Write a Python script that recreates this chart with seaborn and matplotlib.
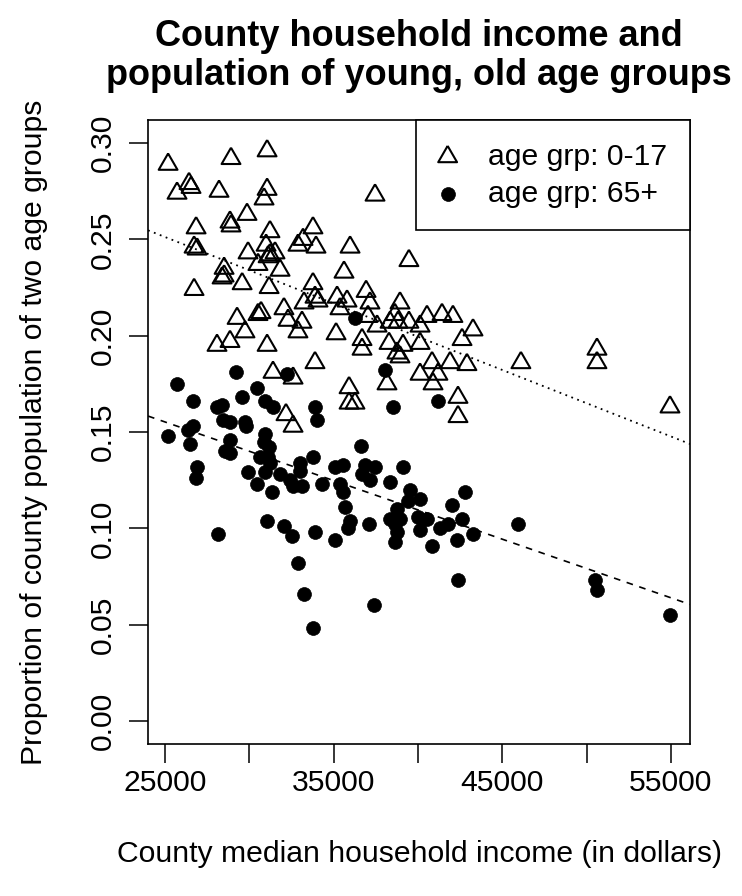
import numpy as np
import pandas as pd
import matplotlib
matplotlib.use("Agg")
import matplotlib.pyplot as plt
import seaborn as sns

# county median household income (dollars) and share of population aged 0-17
income_young = [25180, 28910, 31050, 26420, 26540, 25710, 28200, 31050, 30870, 29860,
                28850, 28910, 26840, 31220, 33770, 26720, 26900, 33180, 32880, 33950,
                30990, 29920, 31220, 31110, 31520, 35970, 30510, 31820, 28500, 28500,
                28380, 29570, 31170, 33770, 33240, 33890, 34070, 26720, 30510, 30690,
                32050, 32290, 29270, 33120, 29740, 37450, 39460, 35610, 36920, 35200,
                35790, 35370, 37150, 38930, 38630, 38810, 37030, 37570, 40530, 41420,
                42070, 43260, 38340, 39460, 40120, 32880, 35140, 36680, 36680, 38280,
                39110, 38750, 38930, 40120, 42610, 31050, 28080, 28850, 33890, 31400,
                32590, 40830, 41900, 42900, 40120, 41180, 40890, 35910, 38160, 35910,
                36260, 42370, 42370, 32170, 32590, 46100, 50610, 50610, 54940]
prop_young = [0.289, 0.292, 0.296, 0.279, 0.277, 0.274, 0.275, 0.276, 0.271, 0.263,
              0.259, 0.257, 0.256, 0.254, 0.256, 0.246, 0.245, 0.250, 0.247, 0.246,
              0.247, 0.243, 0.242, 0.241, 0.243, 0.246, 0.237, 0.234, 0.235, 0.231,
              0.230, 0.227, 0.225, 0.227, 0.217, 0.220, 0.218, 0.224, 0.211, 0.212,
              0.214, 0.208, 0.209, 0.207, 0.202, 0.273, 0.239, 0.233, 0.223, 0.220,
              0.218, 0.214, 0.217, 0.217, 0.211, 0.207, 0.210, 0.205, 0.210, 0.211,
              0.210, 0.203, 0.207, 0.207, 0.205, 0.202, 0.201, 0.198, 0.193, 0.196,
              0.195, 0.191, 0.189, 0.196, 0.198, 0.195, 0.195, 0.197, 0.186, 0.181,
              0.178, 0.186, 0.186, 0.185, 0.180, 0.180, 0.175, 0.173, 0.175, 0.165,
              0.165, 0.168, 0.158, 0.159, 0.153, 0.186, 0.193, 0.186, 0.163]

# same for share of population aged 65+
income_old = [25710, 29210, 30450, 26660, 29570, 28080, 28380, 30930, 31400, 28440,
              28850, 29740, 29800, 25180, 26660, 26360, 26480, 28850, 28560, 28850,
              30930, 30870, 31170, 30630, 31110, 31220, 26900, 26840, 29920, 30930,
              31820, 33000, 33000, 30450, 32410, 32590, 33120, 31340, 33770, 33890,
              34010, 32230, 31050, 32050, 32530, 28140, 33890, 36260, 38040, 41180,
              38520, 36620, 35080, 35550, 36860, 37450, 36680, 37150, 39110, 38340,
              34310, 35370, 35550, 39520, 40120, 39400, 42780, 42010, 35670, 38750,
              38340, 38930, 38630, 40000, 40530, 40120, 42610, 41300, 41780, 35970,
              35850, 37090, 35080, 38750, 42310, 43260, 45930, 38630, 40830, 32880,
              33240, 33770, 37390, 42370, 50490, 50610, 54940]
prop_old = [0.175, 0.181, 0.173, 0.166, 0.168, 0.163, 0.164, 0.166, 0.163, 0.156,
            0.155, 0.155, 0.153, 0.148, 0.153, 0.151, 0.144, 0.146, 0.140, 0.139,
            0.149, 0.145, 0.142, 0.137, 0.137, 0.134, 0.132, 0.126, 0.129, 0.129,
            0.128, 0.134, 0.130, 0.123, 0.125, 0.122, 0.122, 0.119, 0.137, 0.163,
            0.156, 0.180, 0.104, 0.101, 0.096, 0.097, 0.098, 0.209, 0.182, 0.166,
            0.163, 0.143, 0.132, 0.133, 0.133, 0.132, 0.128, 0.125, 0.132, 0.124,
            0.123, 0.123, 0.119, 0.120, 0.115, 0.114, 0.119, 0.112, 0.111, 0.110,
            0.105, 0.105, 0.102, 0.106, 0.105, 0.099, 0.105, 0.100, 0.102, 0.104,
            0.100, 0.102, 0.094, 0.098, 0.094, 0.097, 0.102, 0.093, 0.091, 0.082,
            0.066, 0.048, 0.060, 0.073, 0.073, 0.068, 0.055]

x_ticks = [25000, 30000, 35000, 40000, 45000, 50000, 55000]
x_ticklabels = ["25000", "", "35000", "", "45000", "", "55000"]
y_ticks = [0.00, 0.05, 0.10, 0.15, 0.20, 0.25, 0.30]
y_ticklabels = ["0.00", "0.05", "0.10", "0.15", "0.20", "0.25", "0.30"]

young = pd.DataFrame({"income": income_young, "prop": prop_young})
old = pd.DataFrame({"income": income_old, "prop": prop_old})

sns.set_style("white")
plt.rcParams["font.family"] = ["Liberation Sans", "DejaVu Sans"]
plt.rcParams["text.color"] = "black"
plt.rcParams["axes.labelcolor"] = "black"
fs = 21.7

fig = plt.figure(figsize=(7.42, 8.96), dpi=100)
ax = fig.add_axes([0.1995, 0.1696, 0.7305, 0.6964])

# R-style open triangle (pch = 2), centred on its centroid
tri = [(0, 1), (-0.866, -0.5), (0.866, -0.5), (0, 1)]

sns.scatterplot(data=young, x="income", y="prop", ax=ax, marker=tri, s=245,
                color="black", facecolor="none", edgecolor="black", linewidth=1.5,
                label="age grp: 0-17")
sns.scatterplot(data=old, x="income", y="prop", ax=ax, marker="o", s=100,
                color="black", edgecolor="black", linewidth=0.5,
                label="age grp: 65+")

# R default axis extension: 4% on each side
all_x = np.array(income_young + income_old)
rng = all_x.max() - all_x.min()
xlim = (all_x.min() - 0.04 * rng, all_x.max() + 0.04 * rng)
ylim = (-0.012, 0.312)
ax.set_xlim(xlim)
ax.set_ylim(ylim)

# least-squares lines across the whole plot region
sns.regplot(data=young, x="income", y="prop", ax=ax, scatter=False, ci=None,
            truncate=False, line_kws=dict(color="black", lw=1.3, dashes=(1, 2.5)))
sns.regplot(data=old, x="income", y="prop", ax=ax, scatter=False, ci=None,
            truncate=False, line_kws=dict(color="black", lw=1.2, dashes=(4, 4)))
ax.set_xlim(xlim)
ax.set_ylim(ylim)

ax.set_xticks(x_ticks)
ax.set_xticklabels(x_ticklabels)
ax.set_yticks(y_ticks)
ax.set_yticklabels(y_ticklabels, rotation=90, va="center")
ax.tick_params(axis="both", direction="out", length=13.7, width=1.1,
               color="black", labelsize=fs, labelcolor="black",
               bottom=True, left=True, top=False, right=False)
ax.tick_params(axis="x", pad=4.5)
ax.tick_params(axis="y", pad=8.5)
for sp in ax.spines.values():
    sp.set_visible(True)
    sp.set_color("black")
    sp.set_linewidth(1.2)

ax.set_xlabel("County median household income (in dollars)", fontsize=fs, labelpad=31)
ax.set_ylabel("Proportion of county population of two age groups", fontsize=fs, labelpad=30)
ax.set_title("County household income and\npopulation of young, old age groups",
             fontsize=26, fontweight="bold", pad=25, linespacing=1.15, color="black")

leg = ax.legend(loc="upper right", borderaxespad=0, fontsize=fs, frameon=True,
                fancybox=False, framealpha=1, edgecolor="black", borderpad=0.75,
                handlelength=0.6, handletextpad=1.05, labelspacing=0.3)
leg.get_frame().set_linewidth(1.2)

fig.savefig("out.png", dpi=100)
